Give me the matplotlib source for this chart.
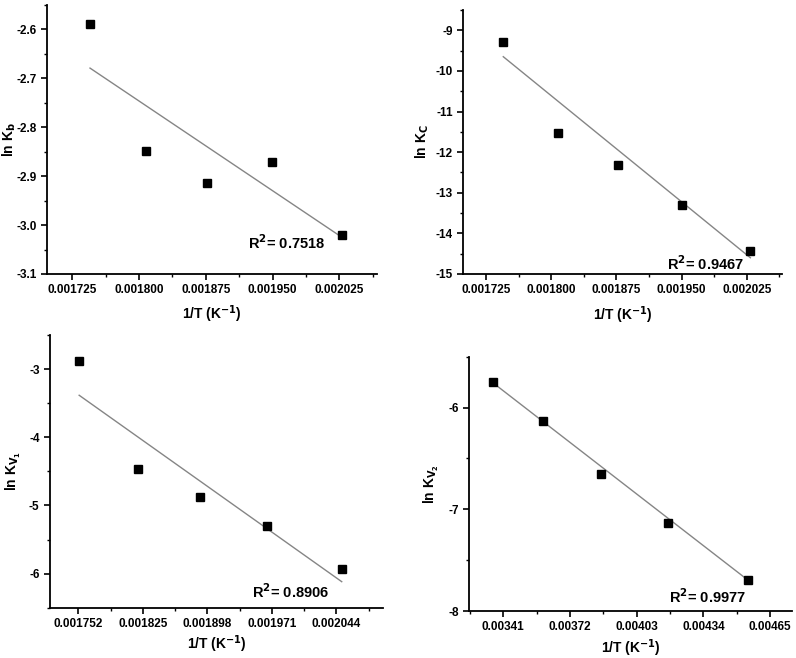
import numpy as np
import matplotlib
matplotlib.use("Agg")
import matplotlib.pyplot as plt
from matplotlib.ticker import FormatStrFormatter, AutoMinorLocator

plt.rcParams['font.family'] = ['Liberation Sans', 'DejaVu Sans']
plt.rcParams['font.weight'] = 'bold'
plt.rcParams['mathtext.default'] = 'bf'

# panel (a): ln Kb
xa = [0.001745, 0.001808, 0.001876, 0.001949, 0.002028]
ya = [-2.588, -2.848, -2.913, -2.872, -3.020]
fit_ya = [-2.679, -3.025]

# panel (b): ln Kc
xb = [0.001745, 0.001808, 0.001877, 0.001950, 0.002029]
yb = [-9.29, -11.52, -12.31, -13.29, -14.43]
fit_yb = [-9.65, -14.60]

# panel (c): ln KV1
xc = [0.001753, 0.001819, 0.001890, 0.001966, 0.002050]
yc = [-2.877, -4.468, -4.877, -5.305, -5.931]
fit_yc = [-3.384, -6.118]

# panel (d): ln KV2
xd = [0.003364, 0.003596, 0.003863, 0.004177, 0.004549]
yd = [-5.744, -6.128, -6.652, -7.138, -7.695]
fit_yd = [-5.76, -7.70]

r2_text = ['0.7518', '0.9467', '0.8906', '0.9977']
ylabels = [r'ln K$_b$', r'ln K$_C$', r'ln K$_{V_1}$', r'ln K$_{V_2}$']

xticks_ab = [0.001725, 0.001800, 0.001875, 0.001950, 0.002025]
xticks_c = [0.001752, 0.001825, 0.001898, 0.001971, 0.002044]
xticks_d = [0.00341, 0.00372, 0.00403, 0.00434, 0.00465]

fig = plt.figure(figsize=(7.96, 6.58), dpi=100)

panels = [
    dict(rect=[0.0594, 0.5836, 0.4138, 0.4088], x=xa, y=ya, fy=fit_ya,
         xlim=(0.001697, 0.002067), ylim=(-3.1, -2.55), xt=xticks_ab,
         yt=[-2.6, -2.7, -2.8, -2.9, -3.0, -3.1], xf='%.6f', yf='%.1f',
         txt=(0.001922, -3.036), ylx=-0.088, xly=-0.108),
    dict(rect=[0.582, 0.5836, 0.400, 0.4012], x=xb, y=yb, fy=fit_yb,
         xlim=(0.001699, 0.002065), ylim=(-15, -8.5), xt=xticks_ab,
         yt=[-9, -10, -11, -12, -13, -14, -15], xf='%.6f', yf='%d',
         txt=(0.001933, -14.74), ylx=-0.10, xly=-0.114),
    dict(rect=[0.0628, 0.0764, 0.4187, 0.4145], x=xc, y=yc, fy=fit_yc,
         xlim=(0.001720, 0.002097), ylim=(-6.5, -2.5), xt=xticks_c,
         yt=[-3, -4, -5, -6], xf='%.6f', yf='%d',
         txt=(0.001948, -6.27), ylx=-0.081, xly=-0.095),
    dict(rect=[0.5896, 0.0714, 0.405, 0.3865], x=xd, y=yd, fy=fit_yd,
         xlim=(0.003252, 0.00475), ylim=(-8, -5.5), xt=xticks_d,
         yt=[-6, -7, -8], xf='%.5f', yf='%d',
         txt=(0.004182, -7.86), ylx=-0.088, xly=-0.104),
]

for i, p in enumerate(panels):
    ax = fig.add_axes(p['rect'])
    ax.plot([p['x'][0], p['x'][-1]], p['fy'], color='#858585', lw=1.0, zorder=2)
    ax.plot(p['x'], p['y'], 's', color='black', ms=5.5, zorder=3)
    ax.set_xlim(*p['xlim'])
    ax.set_ylim(*p['ylim'])
    ax.set_xticks(p['xt'])
    ax.set_yticks(p['yt'])
    ax.xaxis.set_major_formatter(FormatStrFormatter(p['xf']))
    ax.yaxis.set_major_formatter(FormatStrFormatter(p['yf']))
    ax.xaxis.set_minor_locator(AutoMinorLocator(2))
    ax.yaxis.set_minor_locator(AutoMinorLocator(2))
    ax.spines['top'].set_visible(False)
    ax.spines['right'].set_visible(False)
    ax.spines['left'].set_linewidth(1.3)
    ax.spines['bottom'].set_linewidth(1.3)
    ax.tick_params(which='major', direction='out', length=4, width=1.2, labelsize=8.5)
    ax.tick_params(which='minor', direction='out', length=2.5, width=1.0)
    ax.set_xlabel('1/T (K$^{-1}$)', fontsize=10, fontweight='bold')
    ax.set_ylabel(ylabels[i], fontsize=10, fontweight='bold')
    ax.yaxis.set_label_coords(p['ylx'], 0.5)
    ax.xaxis.set_label_coords(0.5, p['xly'])
    ax.text(p['txt'][0], p['txt'][1], 'R$^2$= ' + r2_text[i], fontsize=10.5,
            fontweight='bold', va='center', ha='left')

fig.savefig('out.png', dpi=100)
